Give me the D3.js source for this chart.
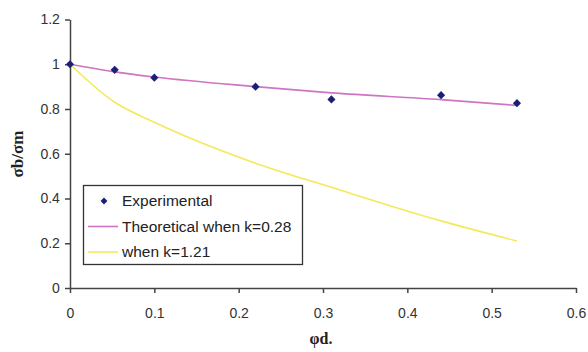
<!DOCTYPE html>
<html>
<head>
<meta charset="utf-8">
<script src="https://cdn.jsdelivr.net/npm/d3@7"></script>
<style>
  body { margin: 0; background: #fff; }
  svg text { font-family: "Liberation Sans", Arial, sans-serif; }
</style>
</head>
<body>
<div id="chart"></div>
<script>
// phi*d values shared by every series
const phiD = [0, 0.053, 0.1, 0.22, 0.31, 0.44, 0.53];
const experimental = [1, 0.975, 0.94, 0.9, 0.843, 0.862, 0.826];
const theoK028 = [1, 0.966, 0.943, 0.9, 0.872, 0.842, 0.816];
const theoK121 = [1, 0.83, 0.741, 0.558, 0.45, 0.3, 0.21];
const xTicks = [0, 0.1, 0.2, 0.3, 0.4, 0.5, 0.6];
const yTicks = [0, 0.2, 0.4, 0.6, 0.8, 1, 1.2];

const width = 588, height = 352;
const svg = d3.select('#chart').append('svg')
  .attr('width', width)
  .attr('height', height);

const x = d3.scaleLinear().domain([0, 0.6]).range([70, 576]);
const y = d3.scaleLinear().domain([0, 1.2]).range([288, 19.5]);

const axisColor = '#444';

const xAxis = svg.append('g')
  .attr('transform', `translate(0,${y(0)})`)
  .call(d3.axisBottom(x).tickValues(xTicks).tickSize(5).tickSizeOuter(0)
    .tickFormat(d => d === 0 ? '0' : String(d)));
const yAxis = svg.append('g')
  .attr('transform', `translate(${x(0)},0)`)
  .call(d3.axisLeft(y).tickValues(yTicks).tickSize(5).tickSizeOuter(0)
    .tickFormat(d => String(d)));

[xAxis, yAxis].forEach(g => {
  g.select('.domain').attr('stroke', axisColor).attr('stroke-width', 1.5);
  g.selectAll('.tick line').attr('stroke', axisColor).attr('stroke-width', 1.5);
  g.selectAll('.tick text')
    .attr('fill', '#333')
    .style('font-size', '14px')
    .style('font-family', '"Liberation Sans", Arial, sans-serif');
});
xAxis.selectAll('.tick text').attr('dy', '1.55em');
yAxis.selectAll('.tick text').attr('dx', '-0.15em');

// lines
const line = vals => d3.line()
  .x((d, i) => x(phiD[i]))
  .y(d => y(d))
  .curve(d3.curveMonotoneX)(vals);

svg.append('path')
  .attr('d', line(theoK121))
  .attr('fill', 'none')
  .attr('stroke', '#f2ea5a')
  .attr('stroke-width', 1.6);

svg.append('path')
  .attr('d', line(theoK028))
  .attr('fill', 'none')
  .attr('stroke', '#cf74c4')
  .attr('stroke-width', 1.6);

// experimental markers
const diamond = d3.symbol().type(d3.symbolDiamond2).size(42);
svg.selectAll('.pt')
  .data(experimental)
  .join('path')
  .attr('class', 'pt')
  .attr('transform', (d, i) => `translate(${x(phiD[i])},${y(d)})`)
  .attr('d', diamond)
  .attr('fill', '#1c1f78');

// axis titles
svg.append('text')
  .attr('transform', `translate(23,154) rotate(-90)`)
  .attr('text-anchor', 'middle')
  .style('font-family', '"Liberation Serif", "Times New Roman", serif')
  .style('font-weight', 'bold')
  .style('font-size', '17px')
  .attr('fill', '#222')
  .text('σb/σm');

svg.append('text')
  .attr('x', 321)
  .attr('y', 344)
  .attr('text-anchor', 'middle')
  .style('font-family', '"Liberation Serif", "Times New Roman", serif')
  .style('font-weight', 'bold')
  .style('font-size', '16px')
  .attr('fill', '#222')
  .text('φd.');

// legend
const legend = svg.append('g');
legend.append('rect')
  .attr('x', 83.5).attr('y', 185.5)
  .attr('width', 219).attr('height', 79)
  .attr('fill', '#fff')
  .attr('stroke', '#333')
  .attr('stroke-width', 1.3);

const items = [
  { label: 'Experimental', type: 'marker' },
  { label: 'Theoretical when k=0.28', type: 'line', color: '#cf74c4' },
  { label: 'when k=1.21', type: 'line', color: '#f2ea5a' }
];
items.forEach((it, i) => {
  const cy = 201 + i * 25.5;
  if (it.type === 'marker') {
    legend.append('path')
      .attr('transform', `translate(104,${cy})`)
      .attr('d', d3.symbol().type(d3.symbolDiamond2).size(30))
      .attr('fill', '#1c1f78');
  } else {
    legend.append('line')
      .attr('x1', 88).attr('x2', 118)
      .attr('y1', cy).attr('y2', cy)
      .attr('stroke', it.color)
      .attr('stroke-width', 1.6);
  }
  legend.append('text')
    .attr('x', 122)
    .attr('y', cy + 5)
    .style('font-size', '15.5px')
    .attr('fill', '#222')
    .text(it.label);
});
</script>
</body>
</html>
